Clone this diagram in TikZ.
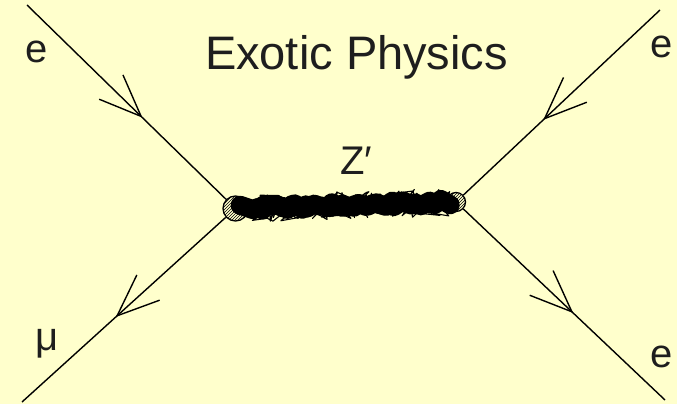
\documentclass[tikz,border=0pt]{standalone}
\usepackage{fontspec}
\setmainfont{Liberation Sans}
\usepackage{tikz}
\usetikzlibrary{arrows.meta,positioning,decorations.markings,decorations.pathmorphing,patterns}
\definecolor{bgyellow}{HTML}{FFFFCC}
\definecolor{inkgray}{HTML}{1E1E1E}

\begin{document}
\begin{tikzpicture}[x=1pt,y=-1pt,
  lbl/.style={inner sep=0pt,anchor=base west,text=inkgray,font=\fontsize{40}{40}\selectfont},
  vtx/.style={circle,draw,line width=1.3pt,inner sep=0pt,pattern=north east lines},
  fline/.style={draw,line width=1.4pt,postaction={decorate},
    decoration={markings,mark=at position #1 with {\arrow[line width=1.4pt]{Straight Barb[length=42pt,width=34pt]}}}},
  zcore/.style={line width=19pt,line join=round,line cap=round,decorate,
    decoration={random steps,segment length=4pt,amplitude=3pt},shorten <=-9pt,shorten >=-5pt},
  zhair/.style={line width=1.1pt,line join=round,decorate,
    decoration={random steps,segment length=1pt,amplitude=14pt},shorten <=-6pt,shorten >=-3pt}]
  \pgfmathsetseed{42}
  \fill[bgyellow] (0,0) rectangle (677,404);
  \useasboundingbox (0,0) rectangle (677,404);
  % vertices and the free ends of the fermion lines
  \node[vtx,minimum size=25pt](vL) at (235.5,208.5){};
  \node[vtx,minimum size=19pt](vR) at (456,202){};
  \coordinate (inL) at (27,5);
  \coordinate (outL) at (22,402);
  \coordinate (inR) at (660,10);
  \coordinate (outR) at (665,400);
  % fermion lines with mid-line barbs
  \draw[fline=0.58](inL)--(vL);
  \draw[fline=0.54](vL)--(outL);
  \draw[fline=0.594](inR)--(vR);
  \draw[fline=0.545](vR)--(outR);
  % scribbled Z' propagator
  \draw[zcore](vL)--(vR);
  \draw[zhair](vL)--(vR);
  % labels
  \node[inner sep=0pt,anchor=base,text=inkgray,font=\fontsize{47}{47}\selectfont](ttl) at (356.5,70){Exotic Physics};
  \node[lbl](lZ) at (340,174){Z′};
  \node[lbl](lTL) at (25.5,63){e};
  \node[lbl](lTR) at (650,57){e};
  \node[lbl](lBR) at (650,367){e};
  \node[lbl](lmu) at (35,350){μ};
\end{tikzpicture}
\end{document}
